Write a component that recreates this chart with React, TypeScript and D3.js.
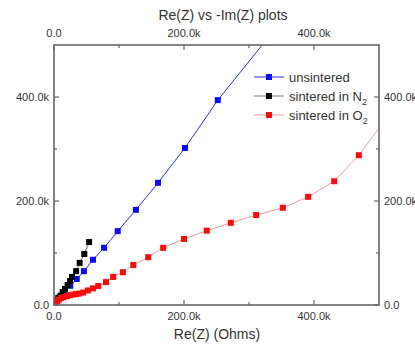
import React from "react";
import * as d3 from "d3";

const title = "Re(Z) vs -Im(Z) plots";
const xTitle = "Re(Z) (Ohms)";
const xTicks = [0, 200000, 400000];
const yTicks = [0, 200000, 400000];
const minorTicks = [100000, 300000];

// unsintered (blue)
const unsinteredX = [2000, 5000, 9000, 15000, 25000, 35000, 46000, 60000, 77000, 98000, 126000, 160000, 201500, 252000, 330000];
const unsinteredY = [4000, 8000, 15000, 25000, 37000, 50000, 65000, 87000, 110000, 142000, 183000, 235000, 302000, 394000, 515000];

// sintered in N2 (black)
const n2X = [1500, 4200, 6600, 10300, 13400, 17000, 21000, 24600, 27700, 34000, 39500, 46600, 54000];
const n2Y = [4400, 8300, 13500, 18000, 25000, 31000, 38500, 46000, 54000, 65000, 81000, 98000, 121000];

// sintered in O2 (red)
const o2X = [800, 2300, 4600, 7700, 11000, 15000, 20000, 24600, 29000, 34000, 38500, 45000, 52000, 60000, 68000, 80000, 91000, 106000, 122000, 145000, 168000, 200000, 235000, 272000, 311000, 352000, 391000, 431000, 469000, 515000];
const o2Y = [2000, 4800, 7700, 10500, 13500, 15000, 17000, 19000, 20000, 21000, 22000, 24000, 28000, 32000, 36500, 44000, 54000, 63000, 77000, 92000, 110000, 127000, 143000, 158000, 173000, 187000, 208000, 238000, 288000, 365000];

const seriesNames = ["unsintered", "sintered in N", "sintered in O"];
const seriesSubs = ["", "2", "2"];

export default function App() {
  const W = 415, H = 346;
  const left = 54, right = 379, top = 45, bottom = 305;
  const x = d3.scaleLinear().domain([0, 500000]).range([left, right]);
  const y = d3.scaleLinear().domain([0, 500000]).range([bottom, top]);
  const font = "Arial, 'Liberation Sans', sans-serif";
  const fmt = (v: number) => (v === 0 ? "0.0" : (v / 1000).toFixed(1) + "k");

  const series = [
    { xs: unsinteredX, ys: unsinteredY, fill: "#0a0aff", stroke: "#2a2aff" },
    { xs: n2X, ys: n2Y, fill: "#000000", stroke: "#777777" },
    { xs: o2X, ys: o2Y, fill: "#ff0a0a", stroke: "#f29a9a" },
  ];
  const line = d3.line<[number, number]>().x((d) => x(d[0])).y((d) => y(d[1]));
  const ms = 6;
  const axisColor = "#666";
  const textColor = "#333";

  const legendY = [77, 96, 115];

  return (
    <svg width={W} height={H} style={{ position: "absolute", left: 0, top: 0 }} fontFamily={font}>
      <rect width={W} height={H} fill="#fff" />
      <defs>
        <clipPath id="plotclip">
          <rect x={left} y={top} width={right - left} height={bottom - top} />
        </clipPath>
      </defs>
      <text x={223} y={20} textAnchor="middle" fontSize={14} fill={textColor}>{title}</text>

      <g clipPath="url(#plotclip)">
        {series.map((s, i) => {
          const pts = s.xs.map((v, j) => [v, s.ys[j]] as [number, number]);
          return (
            <g key={i}>
              <path d={line(pts) || ""} fill="none" stroke={s.stroke} strokeWidth={1} />
              {pts.map((p, j) => (
                <rect key={j} x={x(p[0]) - ms / 2} y={y(p[1]) - ms / 2} width={ms} height={ms} fill={s.fill} />
              ))}
            </g>
          );
        })}
      </g>

      {/* frame */}
      <rect x={left} y={top} width={right - left} height={bottom - top} fill="none" stroke={axisColor} strokeWidth={1.6} />

      {/* ticks */}
      {xTicks.map((t) => (
        <g key={"xt" + t}>
          <line x1={x(t)} x2={x(t)} y1={bottom} y2={bottom - 5} stroke={axisColor} strokeWidth={1.2} />
          <line x1={x(t)} x2={x(t)} y1={top} y2={top + 5} stroke={axisColor} strokeWidth={1.2} />
          <text x={x(t)} y={320} textAnchor="middle" fontSize={11} fill={textColor}>{fmt(t)}</text>
          <text x={x(t)} y={37} textAnchor="middle" fontSize={11} fill={textColor}>{fmt(t)}</text>
        </g>
      ))}
      {minorTicks.map((t) => (
        <g key={"mt" + t}>
          <line x1={x(t)} x2={x(t)} y1={bottom} y2={bottom - 3} stroke={axisColor} strokeWidth={1.2} />
          <line x1={x(t)} x2={x(t)} y1={top} y2={top + 3} stroke={axisColor} strokeWidth={1.2} />
          <line x1={left} x2={left + 3} y1={y(t)} y2={y(t)} stroke={axisColor} strokeWidth={1.2} />
          <line x1={right} x2={right - 3} y1={y(t)} y2={y(t)} stroke={axisColor} strokeWidth={1.2} />
        </g>
      ))}
      {yTicks.map((t) => (
        <g key={"yt" + t}>
          <line x1={left} x2={left + 5} y1={y(t)} y2={y(t)} stroke={axisColor} strokeWidth={1.2} />
          <line x1={right} x2={right - 5} y1={y(t)} y2={y(t)} stroke={axisColor} strokeWidth={1.2} />
          <text x={49} y={y(t)} dy="0.35em" textAnchor="end" fontSize={11} fill={textColor}>{fmt(t)}</text>
          <text x={384} y={y(t)} dy="0.35em" textAnchor="start" fontSize={11} fill={textColor}>{fmt(t)}</text>
        </g>
      ))}

      <text x={217} y={339} textAnchor="middle" fontSize={14} fill={textColor}>{xTitle}</text>

      {/* legend */}
      {series.map((s, i) => (
        <g key={"lg" + i}>
          <line x1={254} x2={284} y1={legendY[i]} y2={legendY[i]} stroke={s.stroke} strokeWidth={1} />
          <rect x={269 - ms / 2} y={legendY[i] - ms / 2} width={ms} height={ms} fill={s.fill} />
          <text x={289} y={legendY[i]} dy="0.35em" fontSize={13} fill={textColor}>
            {seriesNames[i]}
            {seriesSubs[i] && (
              <tspan fontSize={9} dy={4}>{seriesSubs[i]}</tspan>
            )}
          </text>
        </g>
      ))}
    </svg>
  );
}
